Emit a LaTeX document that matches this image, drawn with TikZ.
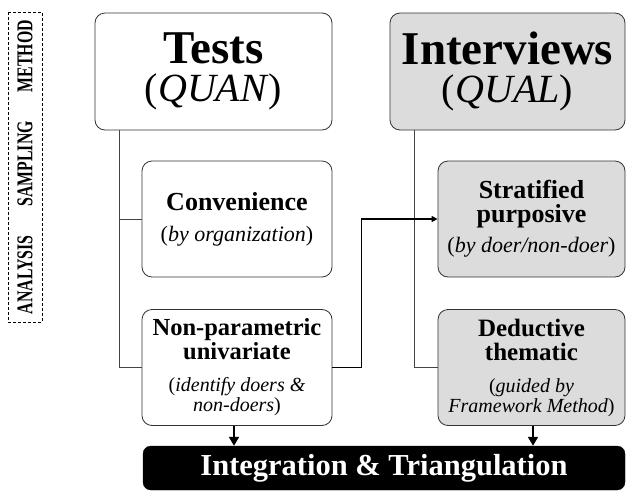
\documentclass[tikz,border=0pt]{standalone}
\usepackage{fontspec}
\setmainfont{Liberation Serif}
\usetikzlibrary{arrows.meta}
\definecolor{boxgray}{HTML}{DCDCDC}
\definecolor{edgegray}{HTML}{333333}
\definecolor{linegray}{HTML}{444444}
\newcommand{\sidelab}[1]{\scalebox{0.7}[1]{#1}}
\newcommand{\itA}[1]{{\fontsize{22}{24}\selectfont\mdseries #1}}
\newcommand{\itB}[1]{{\fontsize{20}{20}\selectfont\mdseries #1}}
\tikzset{
  box/.style={draw=edgegray, line width=0.8pt, rounded corners=10pt, align=center, inner sep=0pt},
  qbox/.style={box, fill=boxgray},
  headfont/.style={font=\fontsize{47}{38}\selectfont},
  subfont/.style={font=\fontsize{#1}{24}\selectfont\bfseries},
  treeline/.style={draw=linegray, line width=0.8pt},
  crossarrow/.style={draw=black, line width=1.8pt, -{Triangle[width=6pt,length=6pt]}},
  downarrow/.style={draw=black, line width=1.8pt, -{Triangle[width=10pt,length=9pt]}},
  intbox/.style={fill=black, draw=black, rounded corners=8pt, text=white, inner sep=0pt, font=\fontsize{30.5}{31}\selectfont\bfseries},
  sidebox/.style={draw=black, dashed, dash pattern=on 3pt off 2pt, line width=0.6pt, inner sep=0pt, rotate=90, font=\fontsize{22.6}{23}\selectfont\bfseries}
}
\begin{document}
\begin{tikzpicture}[x=1pt,y=-1pt]
\useasboundingbox (0,0) rectangle (627,493);
% side label
\node[sidebox, minimum width=310pt, minimum height=34pt] (side) at (25,167)
  {\makebox[294pt]{\sidelab{ANALYSIS}\hfill\sidelab{SAMPLING}\hfill\sidelab{METHOD}}};
% method row
\node[box, headfont, minimum width=237pt, minimum height=117pt] (tests) at (213.5,71.5)
  {{\bfseries Tests}\\{\fontsize{40}{38}\selectfont(\textit{QUAN})}};
\node[qbox, headfont, minimum width=235pt, minimum height=117pt] (inter) at (507.5,71.5)
  {{\bfseries Interviews}\\{\fontsize{40}{38}\selectfont(\textit{QUAL})}};
% sampling row
\node[box, subfont=26, minimum width=190pt, minimum height=116pt] (conv) at (237,219)
  {Convenience\\[7pt]\itA{(\textit{by organization})}};
\node[qbox, subfont=26, minimum width=187pt, minimum height=116pt] (strat) at (531.5,219)
  {Stratified\\purposive\\[6pt]\itA{(\textit{by doer/non-doer})}};
% analysis row
\node[box, subfont=24.5, minimum width=190pt, minimum height=116pt] (nonp) at (237,367.5)
  {Non-parametric\\univariate\\[8pt]\itB{(\textit{identify doers \&}}\\[-4pt]\itB{\textit{non-doers})}};
\node[qbox, subfont=25, minimum width=187pt, minimum height=116pt] (ded) at (531.5,367.5)
  {Deductive\\thematic\\[8pt]\itB{(\textit{guided by}}\\[-4pt]\itB{\textit{Framework Method})}};
% integration
\node[intbox, minimum width=482pt, minimum height=44pt] (integ) at (384,468)
  {Integration \& Triangulation};
% tree lines
\coordinate (tl) at (119,130);
\coordinate (tr) at (414,130);
\draw[treeline] (tl) |- (conv.west);
\draw[treeline] (tl) |- (nonp.west);
\draw[treeline] (tr) |- (ded.west);
% cross arrow
\draw[crossarrow] (nonp.east) -- ++(29,0) |- (strat.west);
% down arrows
\draw[downarrow] ([xshift=-3pt]nonp.south) -- ([xshift=-3pt]nonp.south |- integ.north);
\draw[downarrow] ([xshift=1.5pt]ded.south) -- ([xshift=1.5pt]ded.south |- integ.north);
\end{tikzpicture}
\end{document}
